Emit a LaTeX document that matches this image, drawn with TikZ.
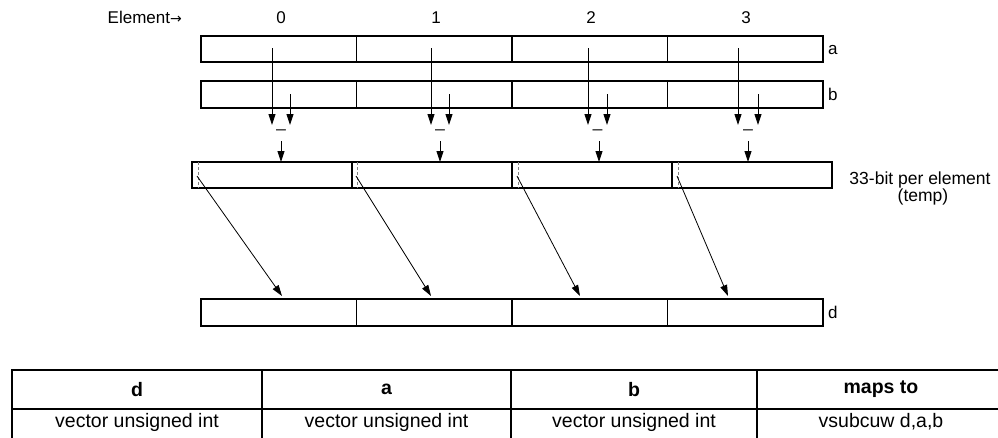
\documentclass[tikz,border=0pt]{standalone}
\usepackage{fontspec}
\setmainfont{Liberation Sans}
\newfontfamily\arrowfont{DejaVu Sans}
\usetikzlibrary{arrows.meta}
\begin{document}
\begin{tikzpicture}[x=1pt,y=-1pt,
  cell/.style={draw, line width=1.2pt, minimum height=26pt, inner sep=0pt, outer sep=0pt},
  acell/.style={cell, minimum width=155.5pt},
  tcell/.style={cell, minimum width=160pt},
  arr/.style={-{Triangle[length=11pt,width=7pt]}, line width=0.9pt},
  dsh/.style={draw=gray, line width=0.9pt, dash pattern=on 3pt off 2pt},
  lab/.style={font=\fontsize{17}{20}\selectfont, inner sep=0pt},
  tab/.style={draw, line width=1.6pt, inner sep=0pt, outer sep=0pt, font=\fontsize{19.5}{22}\selectfont},
  thead/.style={tab, minimum height=39pt, font=\fontsize{19.5}{22}\selectfont\bfseries},
  tdata/.style={tab, minimum height=40pt, text height=14pt, text depth=17pt}
]
\useasboundingbox (0,0) rectangle (998,437);
\clip (0,0) rectangle (998,437);

% labels on top
\node[lab, anchor=base east] (elem) at (182,23) {Element{\arrowfont\fontsize{14}{16}\selectfont →}};
\foreach \i/\x in {0/281,1/436,2/591,3/746}
  \node[lab, anchor=base] (n\i) at (\x,23) {\i};

% registers a, b, d
\foreach \i/\x in {0/278.75,1/434.25,2/589.75,3/745.25}{
  \node[acell] (a\i) at (\x,49) {};
  \node[acell, minimum height=27pt] (b\i) at (\x,94.5) {};
  \node[acell, minimum height=27pt] (d\i) at (\x,312.5) {};
}
\node[lab, anchor=base west] (la) at (828,54) {a};
\node[lab, anchor=base west] (lb) at (828,100) {b};
\node[lab, anchor=base west] (ld) at (828,318) {d};

% temp register
\foreach \i/\x in {0/272,1/432,2/592,3/752}
  \node[tcell] (t\i) at (\x,175) {};
\node[lab, anchor=base, font=\fontsize{17.5}{20}\selectfont] (lt1) at (920,184) {33-bit per element};
\node[lab, anchor=base, font=\fontsize{17.5}{20}\selectfont] (lt2) at (923,201) {(temp)};

% subtraction arrows
\foreach \i/\xa/\xb/\xm/\xd/\xs/\xe in {0/272/290/281/281/198/282,1/431/449/440/440/357/431,2/588/607/597.5/599/518/580,3/738/758/748/748/678/728}{
  \coordinate (sa\i) at (\xa,48);
  \coordinate (ea\i) at (\xa,125);
  \coordinate (sb\i) at (\xb,94);
  \coordinate (eb\i) at (\xb,125);
  \draw[arr] (sa\i) -- (ea\i);
  \draw[arr] (sb\i) -- (eb\i);
  \node[lab, anchor=base] (m\i) at (\xm,127) {\_};
  \coordinate (sm\i) at (\xd,141);
  \draw[arr] (sm\i) -- (sm\i |- t\i.north);
  \coordinate (dt\i) at (\xs,162);
  \coordinate (db\i) at (\xs,188);
  \draw[dsh] (dt\i) -- (db\i);
  \coordinate (ds\i) at (\xs-1,176);
  \coordinate (de\i) at (\xe,296);
  \draw[arr, line width=0.8pt] (ds\i) -- (de\i);
}

% table
\node[thead, minimum width=250pt] (h0) at (137,389.5) {d};
\node[thead, minimum width=249pt] (h1) at (386.5,389.5) {a};
\node[thead, minimum width=246pt] (h2) at (634,389.5) {b};
\node[thead, minimum width=248pt] (h3) at (881,389.5) {maps to};
\node[tdata, minimum width=250pt] (r0) at (137,429) {vector unsigned int};
\node[tdata, minimum width=249pt] (r1) at (386.5,429) {vector unsigned int};
\node[tdata, minimum width=246pt] (r2) at (634,429) {vector unsigned int};
\node[tdata, minimum width=248pt] (r3) at (881,429) {vsubcuw d,a,b};
\end{tikzpicture}
\end{document}
